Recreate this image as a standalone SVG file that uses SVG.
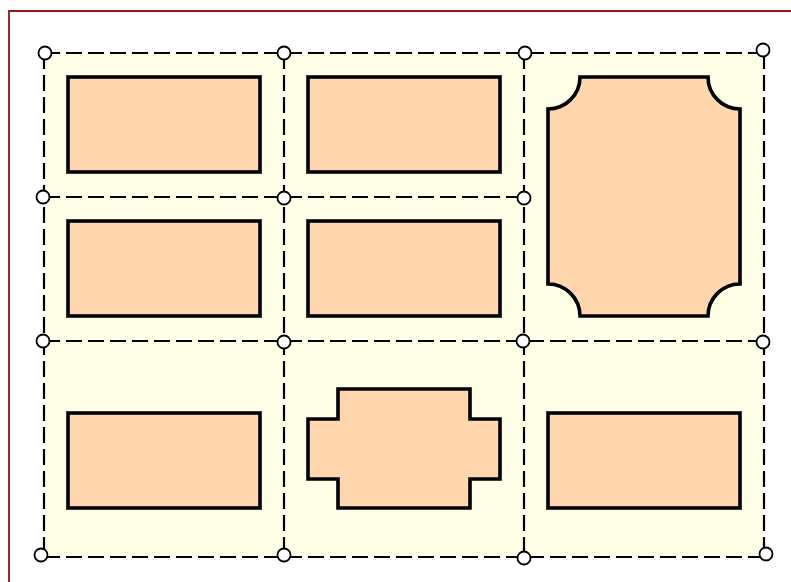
<svg xmlns="http://www.w3.org/2000/svg" width="791" height="582" viewBox="0 0 791 582">
<style>
.grid{fill:none;stroke:#000;stroke-width:2.2;stroke-dasharray:16,6}
.box{fill:#FFD6AD;stroke:#000;stroke-width:3.6}
.pt{fill:#fff;stroke:#000;stroke-width:1.8}
</style>
<rect width="791" height="582" fill="#fff"/>
<path d="M9,582 V11 H791" fill="none" stroke="#8B1A1A" stroke-width="1.8"/>
<rect x="44" y="53" width="720" height="504" fill="#FFFFE8"/>
<g id="connectors">
<path class="grid" d="M44,53 H764 M44,197 H524 M44,341 H764 M44,557 H764"/>
<path class="grid" d="M44,53 V557 M284,53 V557 M524,53 V557 M764,53 V557"/>
</g>
<g id="box1"><rect class="box" x="68" y="77" width="192" height="95"/></g>
<g id="box2"><rect class="box" x="308" y="77" width="192" height="95"/></g>
<g id="box3"><path class="box" d="M580,77 H708 A32,32 0 0 0 740,109 V284 A32,32 0 0 0 708,316 H580 A32,32 0 0 0 548,284 V109 A32,32 0 0 0 580,77 Z"/></g>
<g id="box4"><rect class="box" x="68" y="221" width="192" height="95"/></g>
<g id="box5"><rect class="box" x="308" y="221" width="192" height="95"/></g>
<g id="box6"><rect class="box" x="68" y="413" width="192" height="95"/></g>
<g id="box7"><path class="box" d="M338,389 H470 V419 H500 V479 H470 V508 H338 V479 H308 V419 H338 Z"/></g>
<g id="box8"><rect class="box" x="548" y="413" width="192" height="95"/></g>
<g id="points">
<circle class="pt" cx="45" cy="53" r="6.5"/>
<circle class="pt" cx="284" cy="53" r="6.5"/>
<circle class="pt" cx="525" cy="53" r="6.5"/>
<circle class="pt" cx="763" cy="50" r="6.5"/>
<circle class="pt" cx="43" cy="197" r="6.5"/>
<circle class="pt" cx="284" cy="198" r="6.5"/>
<circle class="pt" cx="524" cy="198" r="6.5"/>
<circle class="pt" cx="43" cy="341" r="6.5"/>
<circle class="pt" cx="284" cy="342" r="6.5"/>
<circle class="pt" cx="523" cy="341" r="6.5"/>
<circle class="pt" cx="763" cy="342" r="6.5"/>
<circle class="pt" cx="41" cy="555" r="6.5"/>
<circle class="pt" cx="284" cy="555" r="6.5"/>
<circle class="pt" cx="524" cy="558" r="6.5"/>
<circle class="pt" cx="766" cy="554" r="6.5"/>
</g>
</svg>
